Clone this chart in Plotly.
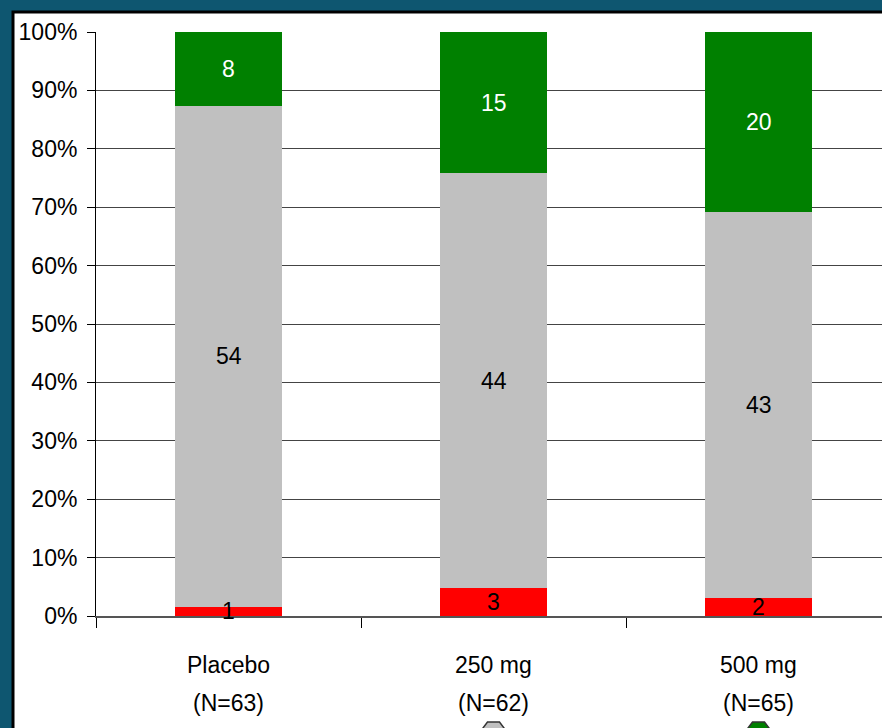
import plotly.graph_objects as go

# Patient counts per treatment arm (stacked as share of each arm)
arms = ["Placebo", "250 mg", "500 mg"]
arm_sizes = ["(N=63)", "(N=62)", "(N=65)"]
worse = [1, 3, 2]
no_change = [54, 44, 43]
improved = [8, 15, 20]

series = [
    ("Worse", worse, "#ff0000", "black"),
    ("No change", no_change, "#c0c0c0", "black"),
    ("Improved", improved, "#008000", "white"),
]

FONT = "Liberation Sans, Arial, sans-serif"
FS = 23

W, H = 882, 728
L, R, T, B = 96, 0, 32, 112
plot_w = W - L - R
plot_h = H - T - B
cat_px = 265.0  # pixel width of one category slot


def px_x(p):
    return (p - L) / plot_w


def px_y(p):
    return (H - B - p) / plot_h


fig = go.Figure()
for name, vals, color, _ in series:
    fig.add_trace(go.Bar(
        x=arms, y=vals, name=name, marker=dict(color=color, line=dict(width=0)),
        width=0.404, showlegend=False, hoverinfo="skip",
    ))

# Count labels centred in each segment
annotations = []
totals = [sum(v) for v in zip(*[s[1] for s in series])]
for i, arm in enumerate(arms):
    base = 0.0
    for name, vals, color, tcolor in series:
        share = 100.0 * vals[i] / totals[i]
        annotations.append(dict(
            x=arm, y=base + share / 2, xref="x", yref="y", text=str(vals[i]),
            xanchor="center", yanchor="middle", showarrow=False,
            font=dict(family=FONT, size=FS, color=tcolor),
        ))
        base += share

# Two-line category labels under the axis
for a, n in zip(arms, arm_sizes):
    for txt, ypx in ((a, 665), (n, 703)):
        annotations.append(dict(
            x=a, y=px_y(ypx), xref="x", yref="paper", text=txt,
            xanchor="center", yanchor="middle", showarrow=False,
            font=dict(family=FONT, size=FS, color="black"),
        ))

shapes = [
    # white chart panel with dark border on the slide background
    dict(type="rect", xref="paper", yref="paper", x0=px_x(13), y0=px_y(760),
         x1=px_x(900), y1=px_y(12), fillcolor="white",
         line=dict(color="black", width=3), layer="below"),
]

# Tops of the legend keys peeking in at the bottom edge
key_colors = [None, "#c0c0c0", "#008000"]
for i, c in enumerate(key_colors):
    if c is None:
        continue
    cx = L + (i + 0.5) * cat_px
    shapes.append(dict(
        type="path", xref="paper", yref="paper",
        path=(f"M {px_x(cx - 13.5)},{px_y(732)} L {px_x(cx - 6)},{px_y(722)} "
              f"L {px_x(cx + 6)},{px_y(722)} L {px_x(cx + 13.5)},{px_y(732)} Z"),
        fillcolor=c, line=dict(color="#333333", width=1.5), layer="above",
    ))

fig.update_layout(
    width=W, height=H,
    margin=dict(l=L, r=R, t=T, b=B, pad=0),
    barmode="stack", barnorm="percent",
    paper_bgcolor="#0e5670", plot_bgcolor="rgba(0,0,0,0)",
    font=dict(family=FONT, size=FS, color="black"),
    annotations=annotations, shapes=shapes,
    xaxis=dict(
        type="category", range=[-0.5, -0.5 + plot_w / cat_px],
        tickson="boundaries", ticks="outside", ticklen=10, tickcolor="black",
        tickwidth=1, showticklabels=False, showgrid=False, zeroline=False,
        showline=True, linecolor="#555555", linewidth=1.5, fixedrange=True,
    ),
    yaxis=dict(
        range=[0, 100], dtick=10, ticksuffix="%", ticks="outside", ticklen=8,
        tickcolor="black", tickwidth=1, showgrid=True, gridcolor="#444444",
        gridwidth=1.2, zeroline=False, showline=True, linecolor="black",
        linewidth=1, ticklabelstandoff=5,
        tickfont=dict(family=FONT, size=FS, color="black"),
    ),
)

fig.write_html("out.html")
